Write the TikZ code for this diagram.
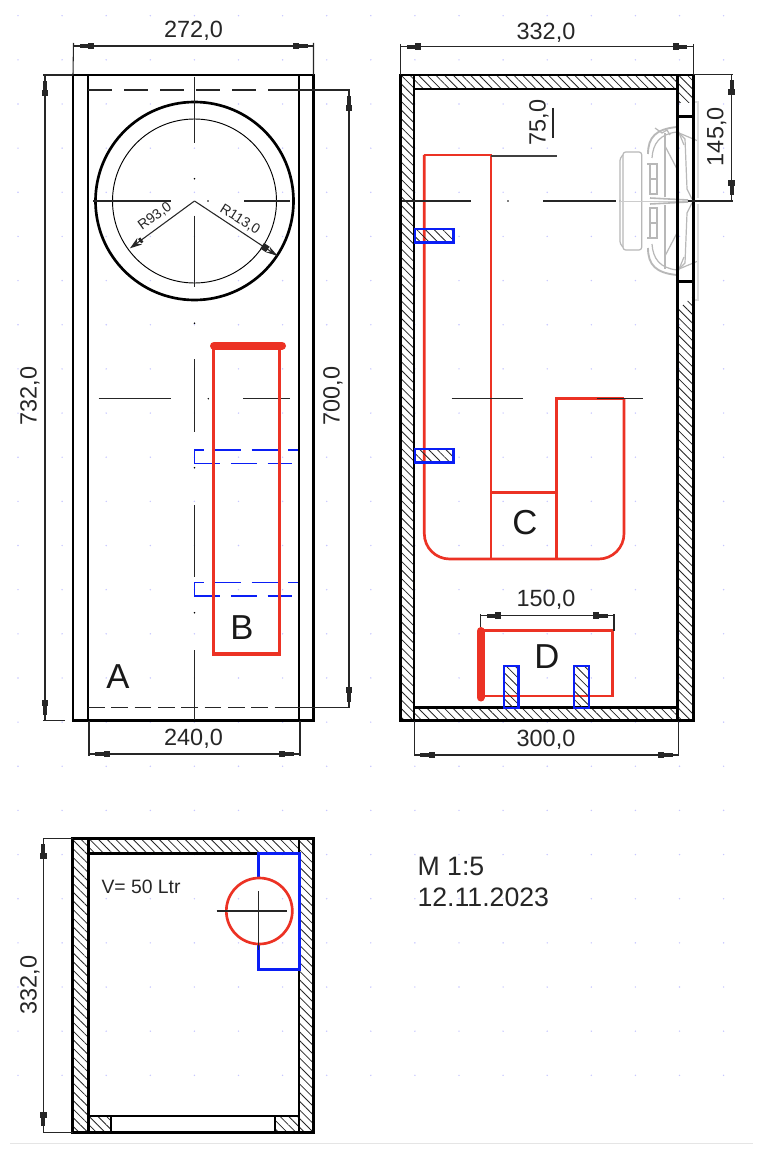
\documentclass[tikz,border=0pt]{standalone}
\usepackage{fontspec}
\setmainfont{Liberation Sans}
\usepackage{tikz}
\usetikzlibrary{arrows.meta, patterns.meta}
\definecolor{boxred}{RGB}{236,50,36}
\definecolor{boxblue}{RGB}{10,30,245}
\tikzset{
  dimtip/.tip={Rectangle[length=4.5pt,width=5pt] Rectangle[length=6.5pt,width=3.2pt] Rectangle[length=4.5pt,width=.8pt]},
  dimline/.style={line width=.8pt, black!85, {dimtip}-{dimtip}},
  extline/.style={line width=.8pt, black!85},
  wall/.style={line width=2pt, black},
  hatched/.style={pattern={Lines[angle=-45,distance=4.6pt,line width=.6pt]}, pattern color=black!85},
  midline/.style={line width=.8pt, black!85},
  redline/.style={line width=2pt, boxred},
  redbar/.style={line width=6pt, boxred, line cap=round},
  blueline/.style={line width=2pt, boxblue},
  bluedash/.style={line width=1pt, boxblue, dash pattern=on 19.5pt off 8pt},
  spk/.style={line width=.9pt, black!28},
  dimtext/.style={font=\fontsize{17.6}{20}\selectfont, text=black!85, inner sep=0pt},
  smalltext/.style={font=\fontsize{10.5}{12}\selectfont, text=black!85, inner sep=0pt},
  lettertext/.style={font=\fontsize{26}{28}\selectfont, text=black!90, inner sep=0pt},
  notetext/.style={font=\fontsize{20}{22}\selectfont, text=black!85, inner sep=0pt, anchor=base west}
}
\begin{document}
\begin{tikzpicture}[x=.75pt, y=-.75pt]
  \useasboundingbox (0,0) rectangle (780,1166);
  \fill[white] (0,0) rectangle (780,1166);

  % grid dots
  \foreach \i in {0,...,16}
    \foreach \j in {0,...,24}
      \fill[blue!22] (18+44.1*\i,15.7+44.15*\j) circle (.8);
  \draw[black!10, line width=.8pt] (10,1143.3) -- (752.7,1143.3);

  % front view
  \coordinate (fo1) at (73,75);
  \coordinate (fo2) at (313.3,720.7);
  \coordinate (fi1) at (88,75);
  \coordinate (fi2) at (299,720.7);
  \coordinate (fc) at (194.5,201);
  \coordinate (fr) at (277.7,256);
  \coordinate (fq) at (130,248.3);

  \draw[wall] (fo1) rectangle (fo2);
  \draw[wall] (fi1) -- (88,720.7) (299,75) -- (fi2);
  \draw[midline, dash pattern=on 18pt off 9pt] (88,90) -- (287,90);
  \draw[extline] (287,90) -- (350,90);
  \draw[midline, dash pattern=on 12.5pt off 5pt] (88,707.7) -- (287,707.7);
  \draw[extline] (287,707.7) -- (350,707.7);

  \draw[line width=2pt] (fc) circle (99);
  \draw[line width=.7pt] (fc) circle (82);

  % centre lines
  \draw[midline] (194.5,76.7) -- (194.5,142.7) (194.5,215.7) -- (194.5,287.3)
    (194.5,359) -- (194.5,431.7) (194.5,505) -- (194.5,576.7) (194.5,650) -- (194.5,720);
  \foreach \y in {178.7,323.3,467.7,612.7} \fill (194.5,\y) circle (.9);
  \draw[midline] (93.3,201) -- (170.7,201) (244,201) -- (290,201);
  \draw[midline] (98.7,398.7) -- (171.3,398.7) (243.3,398.7) -- (290,398.7);
  \fill (208,201) circle (.8);
  \fill (208.3,398.7) circle (.8);

  % radii
  \draw[extline, -{Rectangle[length=2pt,width=4pt] Stealth[length=9pt,width=6pt]}] (fc) -- (fq);
  \draw[extline, -{Rectangle[length=5pt,width=5pt] Stealth[length=9pt,width=5pt]}] (fc) -- (fr);
  \node[smalltext, rotate=36] (r93) at (155,216.5) {R93,0};
  \node[smalltext, rotate=-32] (r113) at (240,219.5) {R113,0};

  % box B
  \draw[bluedash, dash phase=12pt] (194.3,450) -- (297.7,450);
  \draw[bluedash, dash phase=0pt] (194.3,463.7) -- (291.7,463.7);
  \draw[bluedash, dash phase=12pt] (194.3,582.3) -- (297.7,582.3);
  \draw[bluedash, dash phase=0pt] (194.3,596) -- (291.7,596);
  \draw[line width=1pt, boxblue] (194.3,450) -- (194.3,463.7) (194.3,582.3) -- (194.3,596);
  \draw[redline, line width=2.3pt] (213.3,345.7) -- (213.3,654) -- (279.3,654) -- (279.3,345.7);
  \draw[redbar] (214,345.7) -- (282,345.7);

  \node[lettertext] (lb) at (242,628) {B};
  \node[lettertext] (la) at (118,677) {A};

  % front view dimensions
  \coordinate (d1a) at (73.5,46);
  \coordinate (d1b) at (313.5,46);
  \draw[extline] (73.5,43) -- (fo1) (313.5,43) -- (313.5,75);
  \draw[dimline] (d1a) -- (d1b);
  \node[dimtext] (t272) at (193.5,31) {272,0};
  \draw[extline] (43,75) -- (73,75) (43,720.7) -- (65,720.7);
  \draw[dimline] (45,75) -- (45,720.7);
  \node[dimtext, rotate=90] (t732) at (30,396) {732,0};
  \draw[dimline] (349,90) -- (349,707.7);
  \node[dimtext, rotate=90] (t700) at (333,396) {700,0};
  \draw[extline] (89,720.7) -- (89,756) (300,720.7) -- (300,756);
  \draw[dimline] (89,754) -- (300,754);
  \node[dimtext] (t240) at (193.5,739) {240,0};

  % speaker, seen from the side
  \begin{scope}[shift={(0,201)}]
    \foreach \s in {1,-1} {
      \draw[spk, rounded corners=2pt] (620,-1*\s) -- (620,\s*43) -- (623,\s*46);
      \draw[spk, rounded corners=2pt] (623,0) -- (623,\s*49) -- (641.7,\s*49) -- (641.7,0);
      \draw[spk, line width=1.4pt] (648,\s*47) .. controls (648,\s*64) and (656,\s*72) .. (677,\s*74);
      \draw[spk] (652,\s*43) .. controls (653,\s*58) and (660,\s*67) .. (677,\s*69);
      \draw[spk, line width=1.4pt] (647,\s*37) -- (657,\s*37) -- (657,\s*7) -- (650,\s*7) -- (650,\s*37);
      \draw[spk, line width=1.4pt] (650,\s*22) -- (657,\s*22);
      \draw[spk, line width=1.6pt] (665,\s*4) -- (665,\s*68);
      \draw[spk] (680,\s*67) -- (685,\s*62) -- (687,\s*12) -- (692,\s*2);
      \draw[spk] (665,\s*55) -- (677,\s*32);
      \draw[spk] (677,\s*73) -- (684,\s*56);
      \draw[spk] (679,\s*68) -- (698,\s*60);
      \draw[spk, black!14] (693,\s*99) -- (698,\s*99) -- (698,\s*3);
    }
    \draw[spk] (655,-73) -- (662,-68) -- (667,-71) -- (670,-66);
    \draw[spk, line width=.6pt, black!20] (620,0) -- (692,0);
    \draw[spk, line width=1.2pt] (650,-3) -- (688,-1) (650,3) -- (688,1);
  \end{scope}

  % side view
  \coordinate (so1) at (400.5,75);
  \coordinate (so2) at (693.3,720.7);
  \coordinate (si1) at (414,89);
  \coordinate (si2) at (677.3,707.3);

  \path[hatched] (400.5,75) rectangle (414,720.7);
  \path[hatched] (414,75) rectangle (677.3,89);
  \path[hatched] (414,707.3) rectangle (677.3,720.7);
  \path[hatched] (677.3,75) -- (693.3,75) -- (693.3,103) -- (677.3,103) -- cycle;
  \path[hatched] (677.3,310) -- (693.3,296) -- (693.3,720.7) -- (677.3,720.7) -- cycle;
  \draw[wall] (so1) rectangle (so2);
  \draw[wall] (414,75) -- (414,720.7) (677.3,75) -- (677.3,720.7);
  \draw[wall] (414,89) -- (677.3,89) (414,707.3) -- (677.3,707.3);
  \draw[wall] (677.3,116.7) -- (693.3,116.7) (677.3,281.7) -- (693.3,281.7);

  % box C
  \draw[redline, rounded corners=19pt] (424.3,155) -- (424.3,559) -- (624,559) -- (624,398.3);
  \draw[redline] (424.3,155) -- (491,155) -- (491,559);
  \draw[redline] (624,398.3) -- (556.7,398.3) -- (556.7,559);
  \draw[redline] (491,492.7) -- (556.7,492.7);
  \node[lettertext] (lc) at (525,522.7) {C};

  % side view centre lines
  \draw[midline] (401.7,201) -- (471,201) (543.3,201) -- (616,201);
  \fill (508,201) circle (.8);
  \draw[extline] (688,201) -- (733,201);
  \draw[midline] (451.7,398.7) -- (523.3,398.7) (596.7,398.7) -- (642.7,398.7);

  % tabs
  \draw[blueline, hatched] (415,229) rectangle (453.3,242.7);
  \draw[blueline, hatched] (415,449) rectangle (453.3,462.7);

  % box D
  \draw[redline] (480.7,630.7) -- (612.7,630.7) -- (612.7,696) -- (480.7,696);
  \draw[redbar] (480.7,631) -- (480.7,697.5);
  \draw[blueline, hatched] (504,666) rectangle (518.3,708);
  \draw[blueline, hatched] (574,666) rectangle (589,708);
  \node[lettertext] (ld) at (547,656.7) {D};

  % side view dimensions
  \draw[extline] (400.7,44) -- (400.7,75) (693.3,44) -- (693.3,75);
  \draw[dimline] (400.7,46.7) -- (693.3,46.7);
  \node[dimtext] (t332a) at (546,32.7) {332,0};
  \draw[extline] (693.3,74.3) -- (733,74.3);
  \draw[dimline] (731.7,74.3) -- (731.7,201);
  \node[dimtext, rotate=90] (t145) at (716.7,136.7) {145,0};
  \draw[line width=1pt, black!75] (491,156) -- (556.7,156);
  \draw[extline] (553,108) -- (553,138);
  \node[dimtext, rotate=90] (t75) at (539,122.5) {75,0};
  \draw[extline] (480.7,614) -- (480.7,627) (614,614) -- (614,630.7);
  \draw[dimline] (480.7,615.7) -- (614,615.7);
  \node[dimtext] (t150) at (546,600) {150,0};
  \draw[extline] (414.3,720.7) -- (414.3,756) (678.7,720.7) -- (678.7,756);
  \draw[dimline] (414.3,755) -- (678.7,755);
  \node[dimtext] (t300) at (546,739.3) {300,0};

  % top view
  \coordinate (to1) at (72.7,838.3);
  \coordinate (to2) at (313.3,1132.3);
  \coordinate (tc) at (259.3,911);

  \path[hatched] (72.7,838.3) rectangle (88.3,1132.3);
  \path[hatched] (299,838.3) rectangle (313.3,1132.3);
  \path[hatched] (88.3,838.3) rectangle (299,853.3);
  \path[hatched] (88.3,1116) rectangle (111,1132.3);
  \path[hatched] (275,1116) rectangle (299,1132.3);
  \draw[wall] (to1) rectangle (to2);
  \draw[wall] (88.3,838.3) -- (88.3,1132.3) (299,838.3) -- (299,1132.3);
  \draw[wall] (88.3,853.3) -- (299,853.3) (88.3,1116) -- (299,1116);
  \draw[line width=1.5pt] (111,1116) -- (111,1132.3) (275,1116) -- (275,1132.3);

  \draw[blueline] (258.3,878) -- (258.3,853.3) -- (299.3,853.3) -- (299.3,969.3) -- (258.3,969.3) -- (258.3,944);
  \draw[redline] (tc) circle (33);
  \draw[midline] (216.7,911) -- (286.7,911) (258.7,891) -- (258.7,950);

  \node[font=\fontsize{14.5}{16}\selectfont, text=black!85, inner sep=0pt] (vol) at (141,886.7) {V= 50 Ltr};

  \draw[extline] (43,838.3) -- (73,838.3) (43,1132.3) -- (73,1132.3);
  \draw[dimline] (43.3,838.3) -- (43.3,1132.3);
  \node[dimtext, rotate=90] (t332b) at (30,985) {332,0};

  \node[notetext] (scale) at (417.3,875) {M 1:5};
  \node[notetext] (date) at (417.3,906) {12.11.2023};
\end{tikzpicture}
\end{document}
